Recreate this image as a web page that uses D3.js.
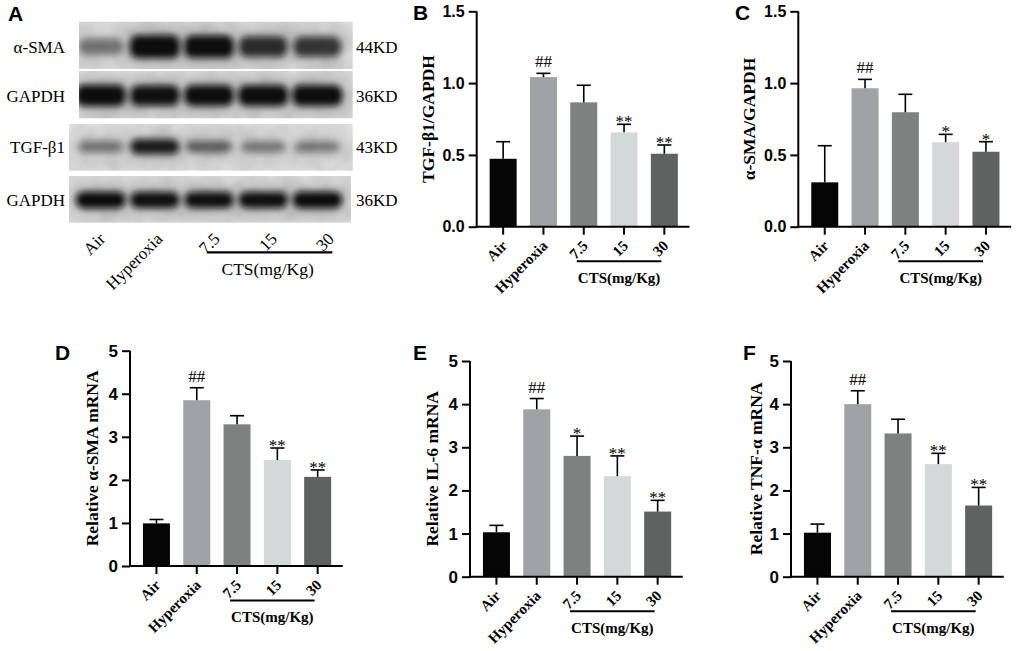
<!DOCTYPE html>
<html><head><meta charset="utf-8">
<script src="https://cdn.jsdelivr.net/npm/d3@7"></script>
<style>body{margin:0;background:#fff} svg{display:block}</style>
</head><body>
<svg id="fig" width="1017" height="651"></svg>
<script>
// ---------------- data ----------------
const categories = ["Air", "Hyperoxia", "7.5", "15", "30"];
const doseGroupLabel = "CTS(mg/Kg)";
const doseGroups = ["7.5", "15", "30"];

// B: TGF-β1/GAPDH
const tgfMean = [0.473, 1.042, 0.866, 0.657, 0.508];
const tgfErr  = [0.119, 0.026, 0.119, 0.056, 0.061];
const tgfSig  = ["", "##", "", "**", "**"];
// C: α-SMA/GAPDH
const asmaProtMean = [0.309, 0.964, 0.797, 0.588, 0.522];
const asmaProtErr  = [0.255, 0.062, 0.125, 0.055, 0.070];
const asmaProtSig  = ["", "##", "", "*", "*"];
// D: Relative α-SMA mRNA
const asmaMrnaMean = [0.99, 3.85, 3.29, 2.46, 2.07];
const asmaMrnaErr  = [0.09, 0.29, 0.20, 0.28, 0.16];
const asmaMrnaSig  = ["", "##", "", "**", "**"];
// E: Relative IL-6 mRNA
const il6Mean = [1.03, 3.88, 2.80, 2.33, 1.51];
const il6Err  = [0.16, 0.25, 0.46, 0.47, 0.26];
const il6Sig  = ["", "##", "*", "**", "**"];
// F: Relative TNF-α mRNA
const tnfMean = [1.02, 4.00, 3.32, 2.61, 1.65];
const tnfErr  = [0.20, 0.31, 0.33, 0.25, 0.42];
const tnfSig  = ["", "##", "", "**", "**"];

const ratioTicks = [0, 0.5, 1.0, 1.5];
const mrnaTicks = [0, 1, 2, 3, 4, 5];

// A: western blot band intensities (0-1)
const blotRows  = ["α-SMA", "GAPDH", "TGF-β1", "GAPDH"];
const blotSizes = ["44KD", "36KD", "43KD", "36KD"];
const asmaBand   = [0.34, 0.97, 0.93, 0.74, 0.68];
const gapdhBand1 = [0.98, 0.90, 0.93, 0.96, 0.97];
const tgfBand    = [0.34, 0.84, 0.46, 0.32, 0.32];
const gapdhBand2 = [0.95, 0.90, 0.90, 0.90, 0.93];

// ---------------- styles ----------------
const barColors = ["#050505", "#a0a2a5", "#7f8080", "#d5d8d8", "#606262"];
const SERIF = "'Liberation Serif','Times New Roman',serif";
const SANS = "'Liberation Sans',Arial,sans-serif";

const svg = d3.select("#fig");
const defs = svg.append("defs");
defs.append("filter").attr("id", "blur").attr("x", "-50%").attr("y", "-80%").attr("width", "200%").attr("height", "260%")
  .append("feGaussianBlur").attr("stdDeviation", 3.4);
defs.append("filter").attr("id", "halo").attr("x", "-60%").attr("y", "-120%").attr("width", "220%").attr("height", "340%")
  .append("feGaussianBlur").attr("stdDeviation", 9);
const grad = defs.append("linearGradient").attr("id", "stripBg").attr("x1", 0).attr("y1", 0).attr("x2", 0).attr("y2", 1);
grad.append("stop").attr("offset", 0).attr("stop-color", "#e9e9e9");
grad.append("stop").attr("offset", 0.5).attr("stop-color", "#dfdfdf");
grad.append("stop").attr("offset", 1).attr("stop-color", "#e6e6e6");
const noise = defs.append("filter").attr("id", "noise");
noise.append("feTurbulence").attr("type", "fractalNoise").attr("baseFrequency", 0.05).attr("numOctaves", 2).attr("seed", 3);
noise.append("feColorMatrix").attr("type", "matrix")
  .attr("values", "0 0 0 0 0  0 0 0 0 0  0 0 0 0 0  0 0 0 0.12 0");
noise.append("feComposite").attr("in2", "SourceGraphic").attr("operator", "in");

// ---------------- panel A ----------------
(function blot() {
  const g = svg.append("g");
  const lane = d3.scaleBand().domain(categories).range([73.6, 344.4]);
  const lc = c => lane(c) + lane.bandwidth() / 2;
  const labelLane = d3.scaleBand().domain(categories).range([77.7, 363.7]);
  const llc = c => labelLane(c) + labelLane.bandwidth() / 2;
  const strips = [
    { x: 79, y: 21.7, w: 273.7, h: 47.3, by: 46.7, bh: 23, vals: asmaBand },
    { x: 79, y: 71.0, w: 273.7, h: 47.3, by: 95.5, bh: 21, vals: gapdhBand1 },
    { x: 69, y: 124, w: 283.7, h: 46.7, by: 146.7, bh: 16, vals: tgfBand },
    { x: 69, y: 176, w: 282, h: 46.7, by: 200, bh: 17, vals: gapdhBand2 }
  ];
  strips.forEach((s, i) => {
    g.append("rect").attr("x", s.x).attr("y", s.y).attr("width", s.w).attr("height", s.h).attr("fill", "url(#stripBg)");
    g.append("rect").attr("x", s.x).attr("y", s.y).attr("width", s.w).attr("height", s.h).attr("fill", "#000").attr("filter", "url(#noise)");
    const sg = g.append("g");
    sg.append("clipPath").attr("id", "clip" + i).append("rect").attr("x", s.x).attr("y", s.y).attr("width", s.w).attr("height", s.h);
    const bands = sg.append("g").attr("clip-path", `url(#clip${i})`);
    bands.selectAll("rect.halo").data(categories).join("rect").attr("class", "halo")
      .attr("x", c => lc(c) - 27).attr("width", 54)
      .attr("y", s.by - s.bh * 0.9).attr("height", s.bh * 1.8).attr("rx", 10)
      .attr("fill", "#333").attr("opacity", (c, j) => 0.25 * s.vals[j]).attr("filter", "url(#halo)");
    bands.selectAll("rect.band").data(categories).join("rect").attr("class", "band")
      .attr("x", (c, j) => lc(c) - (21 + 4 * s.vals[j]))
      .attr("width", (c, j) => 2 * (21 + 4 * s.vals[j]))
      .attr("y", (c, j) => s.by - s.bh * (0.55 + 0.45 * s.vals[j]) / 2)
      .attr("height", (c, j) => s.bh * (0.55 + 0.45 * s.vals[j]))
      .attr("rx", 8)
      .attr("fill", "#0a0a0a").attr("opacity", (c, j) => Math.min(1, 0.12 + 0.95 * s.vals[j]))
      .attr("filter", "url(#blur)");
    g.append("text").attr("x", 65).attr("y", s.by + 6).attr("text-anchor", "end")
      .style("font-family", SERIF).style("font-size", "17px").text(blotRows[i]);
    g.append("text").attr("x", 356).attr("y", s.by + 6).attr("text-anchor", "start")
      .style("font-family", SERIF).style("font-size", "17px").text(blotSizes[i]);
  });
  categories.forEach(c => {
    g.append("text").attr("transform", `translate(${llc(c)},240) rotate(-45)`).attr("text-anchor", "end")
      .style("font-family", SERIF).style("font-size", "17px").text(c);
  });
  const lx0 = lc(doseGroups[0]) - 2, lx1 = lc(doseGroups[2]) + 15;
  g.append("line").attr("x1", lx0).attr("x2", lx1).attr("y1", 252.3).attr("y2", 252.3).attr("stroke", "#000").attr("stroke-width", 2.2);
  g.append("text").attr("x", (lx0 + lx1) / 2 - 2).attr("y", 275).attr("text-anchor", "middle")
    .style("font-family", SERIF).style("font-size", "17.5px").text(doseGroupLabel);
  g.append("text").attr("x", 8).attr("y", 20.5).style("font-family", SANS).style("font-weight", "bold").style("font-size", "21px").text("A");
})();

// ---------------- bar panels ----------------
function barPanel(p) {
  const g = svg.append("g");
  const step = 40.3;
  const x = d3.scaleBand().domain(categories)
    .range([p.ax + 6.3, p.ax + 6.3 + 5 * step]).paddingInner(0.33).paddingOuter(0.165);
  const xc = c => x(c) + x.bandwidth() / 2;
  const axEnd = p.ax + 6.3 + 5 * step + 5;
  const y = d3.scaleLinear().domain([0, p.max]).range([p.y0, p.yTop]);

  // bars
  g.selectAll("rect.bar").data(categories).join("rect").attr("class", "bar")
    .attr("x", c => x(c)).attr("width", x.bandwidth())
    .attr("y", (c, i) => y(p.mean[i])).attr("height", (c, i) => p.y0 - y(p.mean[i]))
    .attr("fill", (c, i) => barColors[i]);
  // error bars (upper)
  const cap = 14;
  g.selectAll("line.err").data(categories).join("line").attr("class", "err")
    .attr("x1", xc).attr("x2", xc)
    .attr("y1", (c, i) => y(p.mean[i])).attr("y2", (c, i) => y(p.mean[i] + p.err[i]))
    .attr("stroke", "#000").attr("stroke-width", 1.6);
  g.selectAll("line.cap").data(categories).join("line").attr("class", "cap")
    .attr("x1", c => xc(c) - cap / 2).attr("x2", c => xc(c) + cap / 2)
    .attr("y1", (c, i) => y(p.mean[i] + p.err[i])).attr("y2", (c, i) => y(p.mean[i] + p.err[i]))
    .attr("stroke", "#000").attr("stroke-width", 1.6);
  // significance
  g.selectAll("text.sig").data(categories).join("text").attr("class", "sig")
    .attr("x", xc).attr("text-anchor", "middle")
    .attr("y", (c, i) => y(p.mean[i] + p.err[i]) + (p.sig[i].startsWith("#") ? -6 : 3))
    .attr("fill", "#000")
    .style("font-family", SERIF).style("font-size", "17px")
    .text((c, i) => p.sig[i]);

  // y axis
  const yAxis = d3.axisLeft(y).tickValues(p.ticks).tickSize(8).tickSizeOuter(0).tickPadding(4)
    .tickFormat(p.fmt);
  const ya = g.append("g").attr("transform", `translate(${p.ax},0)`).call(yAxis);
  ya.select(".domain").attr("stroke-width", 2).attr("d", `M0,${p.y0 + 1}V${p.yTop}`);
  ya.selectAll(".tick line").attr("stroke-width", 2);
  ya.selectAll(".tick text").style("font-family", SANS).style("font-weight", "bold").style("font-size", p.tfs + "px").attr("fill", "#000");

  // x axis
  g.append("line").attr("x1", p.ax - 1).attr("x2", axEnd).attr("y1", p.y0).attr("y2", p.y0).attr("stroke", "#000").attr("stroke-width", 2);
  g.selectAll("line.xt").data(categories).join("line").attr("class", "xt")
    .attr("x1", xc).attr("x2", xc).attr("y1", p.y0).attr("y2", p.y0 + 8).attr("stroke", "#000").attr("stroke-width", 2);
  g.selectAll("text.xl").data(categories).join("text").attr("class", "xl")
    .attr("transform", c => `translate(${xc(c) + 5},${p.y0 + 20}) rotate(-45)`)
    .attr("text-anchor", "end")
    .style("font-family", SERIF).style("font-weight", "bold").style("font-size", "15px").text(c => c);

  // CTS group
  const lx0 = xc(doseGroups[0]) - 7, lx1 = xc(doseGroups[2]) - 3;
  g.append("line").attr("x1", lx0).attr("x2", lx1).attr("y1", p.y0 + 34.5).attr("y2", p.y0 + 34.5).attr("stroke", "#000").attr("stroke-width", 2);
  g.append("text").attr("x", (lx0 + lx1) / 2).attr("y", p.y0 + 56).attr("text-anchor", "middle")
    .style("font-family", SERIF).style("font-weight", "bold").style("font-size", "15px").text(doseGroupLabel);

  // y title
  const yc = (p.y0 + p.yTop) / 2;
  g.append("text").attr("transform", `translate(${p.ax - p.lblOff + 6},${yc}) rotate(-90)`).attr("text-anchor", "middle")
    .style("font-family", SERIF).style("font-weight", "bold").style("font-size", "17.5px").text(p.title);
  // panel letter
  g.append("text").attr("x", p.lx).attr("y", p.ly).style("font-family", SANS).style("font-weight", "bold").style("font-size", "21px").text(p.letter);
}

const f1 = d3.format(".1f"), f0 = d3.format("d");
barPanel({ letter: "B", lx: 413, ly: 19.5, ax: 476.7, y0: 226.7, yTop: 11.3, max: 1.5, ticks: ratioTicks, fmt: f1, tfs: 16,
  mean: tgfMean, err: tgfErr, sig: tgfSig, title: "TGF-β1/GAPDH", lblOff: 49 });
barPanel({ letter: "C", lx: 735, ly: 19.5, ax: 798.3, y0: 226.7, yTop: 11.3, max: 1.5, ticks: ratioTicks, fmt: f1, tfs: 16,
  mean: asmaProtMean, err: asmaProtErr, sig: asmaProtSig, title: "α-SMA/GAPDH", lblOff: 49 });
barPanel({ letter: "D", lx: 55, ly: 360, ax: 130, y0: 566, yTop: 350.7, max: 5, ticks: mrnaTicks, fmt: f0, tfs: 17,
  mean: asmaMrnaMean, err: asmaMrnaErr, sig: asmaMrnaSig, title: "Relative α-SMA mRNA", lblOff: 38 });
barPanel({ letter: "E", lx: 413, ly: 360, ax: 470, y0: 576.7, yTop: 361, max: 5, ticks: mrnaTicks, fmt: f0, tfs: 17,
  mean: il6Mean, err: il6Err, sig: il6Sig, title: "Relative IL-6 mRNA", lblOff: 38 });
barPanel({ letter: "F", lx: 743, ly: 360, ax: 791, y0: 576.7, yTop: 361, max: 5, ticks: mrnaTicks, fmt: f0, tfs: 17,
  mean: tnfMean, err: tnfErr, sig: tnfSig, title: "Relative TNF-α mRNA", lblOff: 35 });
</script>
</body></html>
